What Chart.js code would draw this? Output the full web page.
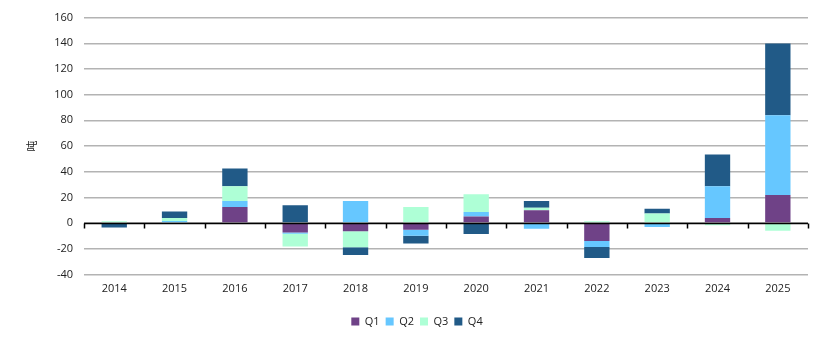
<!DOCTYPE html>
<html>
<head>
<meta charset="utf-8">
<script src="https://cdn.jsdelivr.net/npm/chart.js@4/dist/chart.umd.min.js"></script>
<style>
  html, body { margin: 0; padding: 0; background: #fff; }
</style>
</head>
<body>
<canvas id="chart" width="832" height="342"></canvas>
<script>
// Values (吨)
const years = ['2014', '2015', '2016', '2017', '2018', '2019', '2020', '2021', '2022', '2023', '2024', '2025'];
const q1 = [0, 0, 12.5, -7.3, -6.3, -5.2, 5, 9.9, -14, 0, 3.9, 21.9];
const q2 = [0, 1.5, 4.7, -1, 17.2, -4.7, 3.6, -4.5, -4.7, -3, 24.7, 62];
const q3 = [1.3, 2.5, 11.5, -10, -12.5, 12.5, 13.8, 2.1, 1.3, 7.5, -1.8, -6];
const q4 = [-3.5, 5, 13.8, 13.8, -6, -6, -8.6, 5.2, -8.6, 3.6, 24.7, 56];

const font = { family: "'Open Sans', 'Noto Sans CJK SC', sans-serif", size: 11 };

function bar(label, data, color) {
  return {
    label: label,
    data: data,
    backgroundColor: color,
    borderWidth: 0,
    barPercentage: 0.42,
    categoryPercentage: 1
  };
}

// black zero line with tick marks between the categories, like the original
const zeroAxis = {
  id: 'zeroAxis',
  afterDatasetsDraw(chart) {
    const x = chart.scales.x, y = chart.scales.y, ctx = chart.ctx;
    const y0 = Math.round(y.getPixelForValue(0)) + 0.5;
    const step = (x.right - x.left) / years.length;
    ctx.save();
    ctx.strokeStyle = '#000';
    ctx.lineWidth = 1.5;
    ctx.beginPath();
    ctx.moveTo(x.left, y0);
    ctx.lineTo(x.right, y0);
    for (let i = 0; i <= years.length; i++) {
      const px = Math.round(x.left + i * step) + 0.5;
      ctx.moveTo(px, y0);
      ctx.lineTo(px, y0 + 5);
    }
    ctx.stroke();
    ctx.restore();
  }
};

const config = {
  type: 'bar',
  data: {
    labels: years,
    datasets: [
      bar('Q1', q1, '#6f4287'),
      bar('Q2', q2, '#66c7ff'),
      bar('Q3', q3, '#aeffd6'),
      bar('Q4', q4, '#215a87')
    ]
  },
  options: {
    responsive: false,
    animation: false,
    layout: { padding: { left: 26, right: 24, top: 2, bottom: 5 } },
    plugins: {
      legend: {
        position: 'bottom',
        title: { display: true, text: ' ', font: { size: 12 }, padding: 0 },
        labels: {
          boxWidth: 8,
          boxHeight: 8,
          padding: 6,
          color: '#222',
          font: font
        }
      },
      tooltip: { enabled: false }
    },
    scales: {
      x: {
        stacked: true,
        grid: { display: false },
        border: { display: false },
        ticks: { color: '#222', font: font, padding: 0 }
      },
      y: {
        stacked: true,
        min: -40,
        max: 160,
        ticks: { stepSize: 20, color: '#222', font: font, padding: 11 },
        grid: { color: '#b3b3b3', lineWidth: 1.5, drawTicks: false },
        border: { display: false },
        title: { display: true, text: '吨', color: '#222', font: font, padding: { top: 0, bottom: 4 } }
      }
    }
  },
  plugins: [zeroAxis]
};

new Chart(document.getElementById('chart').getContext('2d'), config);
</script>
</body>
</html>
